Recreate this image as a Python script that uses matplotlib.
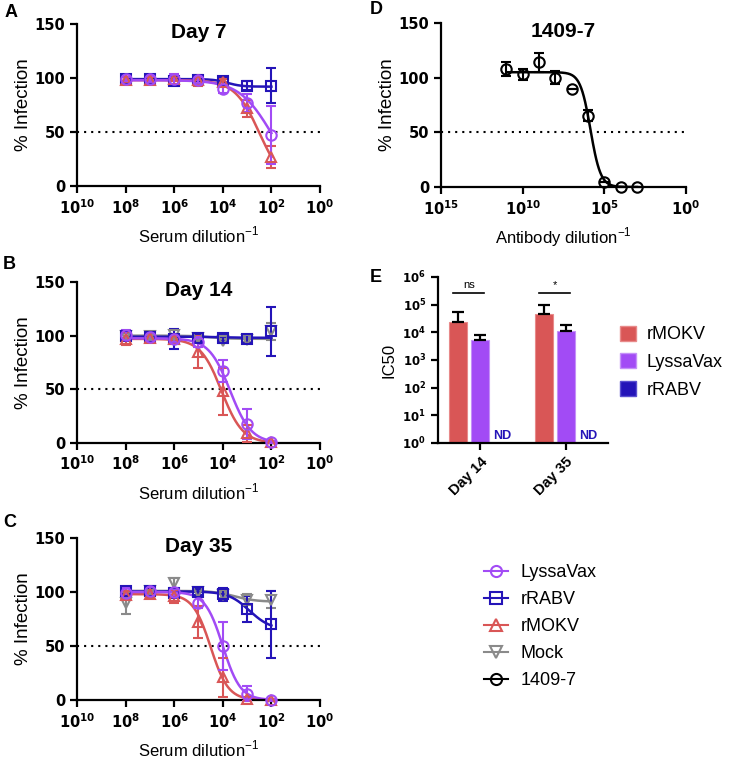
import numpy as np
import matplotlib
matplotlib.use('Agg')
import matplotlib.pyplot as plt
from matplotlib.lines import Line2D
from matplotlib.patches import Patch
from matplotlib.ticker import NullLocator

plt.rcParams['font.family'] = ['Liberation Sans', 'DejaVu Sans']
plt.rcParams['mathtext.fontset'] = 'custom'
plt.rcParams['mathtext.rm'] = 'Liberation Sans'
plt.rcParams['mathtext.bf'] = 'DejaVu Sans:bold'
plt.rcParams['axes.linewidth'] = 1.6

# colours
c_lyssa = '#A24BF5'
c_rabv = '#2414B8'
c_mokv = '#D95656'
c_mock = '#8A8A8A'
c_ab = 'black'

# serum dilutions (panels A-C)
dilutions = [1e8, 1e7, 1e6, 1e5, 1e4, 1e3, 1e2]

# Day 7
lyssa7 = [99, 99, 99, 98, 90, 77, 47]
lyssa7_err = [2, 3, 5, 3, 4, 8, 27]
rabv7 = [99, 99, 97, 98, 97, 93, 93]
rabv7_err = [2, 3, 3, 2, 3, 4, 16]
mokv7 = [98, 98, 99, 98, 96, 72, 27]
mokv7_err = [3, 3, 2, 5, 3, 8, 10]

# Day 14
lyssa14 = [101, 99, 97, 94, 67, 18, 1]
lyssa14_err = [4, 4, 3, 5, 10, 14, 1]
rabv14 = [100, 99, 97, 98, 98, 97, 104]
rabv14_err = [3, 4, 9, 3, 3, 4, 23]
mokv14 = [97, 98, 97, 85, 48, 9, 1]
mokv14_err = [6, 4, 3, 15, 22, 8, 1]
mock14 = [100, 100, 101, 98, 95, 96, 104]
mock14_err = [2, 2, 4, 2, 2, 2, 8]

# Day 35
lyssa35 = [99, 101, 100, 90, 50, 6, 0]
lyssa35_err = [5, 4, 3, 5, 22, 7, 1]
rabv35 = [101, 101, 99, 100, 98, 84, 70]
rabv35_err = [3, 3, 5, 3, 6, 12, 31]
mokv35 = [97, 98, 96, 72, 21, 1, 0]
mokv35_err = [4, 4, 6, 15, 18, 2, 1]
mock35 = [90, 101, 108, 100, 97, 93, 93]
mock35_err = [10, 4, 5, 3, 3, 5, 8]

# fitted curve parameters: top, bottom, log10 IC50, hill slope
fit_lyssa7 = (98, 0, 2.0, 0.65)
fit_rabv7 = (99, 92, 3.8, 1.5)
fit_mokv7 = (98, 0, 2.49, 0.86)
fit_lyssa14 = (97.5, 0, 3.7, 1.0)
fit_rabv14 = (99, 98, 4.0, 1.0)
fit_mokv14 = (97, 0, 4.05, 1.0)
fit_mock14 = (100, 97, 4.5, 1.0)
fit_lyssa35 = (100, 0, 4.0, 1.2)
fit_rabv35 = (100.5, 65, 2.9, 1.0)
fit_mokv35 = (98, 0, 4.5, 1.2)
fit_mock35 = (101, 91, 3.5, 1.0)

# 1409-7 antibody (panel D)
ab_dilutions = [1e11, 1e10, 1e9, 1e8, 1e7, 1e6, 1e5, 1e4, 1e3]
ab_values = [108, 103, 114, 100, 90, 65, 5, 0, 0]
ab_err = [6, 5, 9, 6, 0, 5, 0, 0, 0]
fit_ab = (105, 0, 5.85, 1.4)

# IC50 (panel E)
days = ['Day 14', 'Day 35']
ic50_mokv = [2.3e4, 4.5e4]
ic50_mokv_err = [3.1e4, 5.0e4]
ic50_lyssa = [5.4e3, 1.1e4]
ic50_lyssa_err = [2.9e3, 8.0e3]
sig_labels = ['ns', '*']


def logistic(logx, params):
    top, bottom, logic50, hill = params
    return bottom + (top - bottom) / (1 + 10 ** ((logic50 - logx) * hill))


def log_label(n):
    return r'$\mathbf{10^{%d}}$' % n


def style_axis(ax, xsize=10.5, ysize=10.5):
    ax.spines['top'].set_visible(False)
    ax.spines['right'].set_visible(False)
    ax.tick_params(width=1.6, length=5)
    ax.tick_params(axis='x', labelsize=xsize)
    ax.tick_params(axis='y', labelsize=ysize)
    for lab in ax.get_yticklabels():
        lab.set_fontweight('bold')
        lab.set_fontfamily('DejaVu Sans')


def dose_panel(ax, x, series, title, xlabel, xmax, xstep):
    for y, err, fit, color, marker in series:
        logx = np.linspace(np.log10(min(x)), np.log10(max(x)), 200)
        ax.plot(10 ** logx, logistic(logx, fit), color=color, lw=1.8, zorder=2)
        ax.errorbar(x, y, yerr=err, fmt=marker, mfc='none', mec=color, mew=1.5,
                    ms=7.5, ecolor=color, elinewidth=1.5, capsize=3.5, capthick=1.5,
                    clip_on=False, zorder=3)
    ax.set_xscale('log')
    ax.set_xlim(10 ** xmax, 1)
    ticks = list(range(xmax, -1, -xstep))
    ax.set_xticks([10.0 ** t for t in ticks])
    ax.set_xticklabels([log_label(t) for t in ticks])
    ax.xaxis.set_minor_locator(NullLocator())
    ax.set_ylim(0, 150)
    ax.set_yticks([0, 50, 100, 150])
    ax.axhline(50, color='black', lw=1.5, ls=(0, (1, 2.4)), zorder=1)
    ax.text(0.5, 0.95, title, transform=ax.transAxes, ha='center', va='center',
            fontsize=15, fontweight='bold')
    ax.set_xlabel(xlabel, fontsize=12, labelpad=6)
    ax.set_ylabel('% Infection', fontsize=13.5, labelpad=2)
    style_axis(ax)


fig = plt.figure(figsize=(7.36, 7.7), dpi=100)

axA = fig.add_axes([0.1046, 0.7584, 0.3302, 0.2104])
axB = fig.add_axes([0.1046, 0.4247, 0.3302, 0.2091])
axC = fig.add_axes([0.1046, 0.0909, 0.3302, 0.2104])
axD = fig.add_axes([0.5992, 0.7571, 0.3329, 0.2130])
axE = fig.add_axes([0.5951, 0.4247, 0.2310, 0.2156])

serum = 'Serum dilution$^{-1}$'
dose_panel(axA, dilutions, [
    (rabv7, rabv7_err, fit_rabv7, c_rabv, 's'),
    (mokv7, mokv7_err, fit_mokv7, c_mokv, '^'),
    (lyssa7, lyssa7_err, fit_lyssa7, c_lyssa, 'o'),
], 'Day 7', serum, 10, 2)

dose_panel(axB, dilutions, [
    (mock14, mock14_err, fit_mock14, c_mock, 'v'),
    (rabv14, rabv14_err, fit_rabv14, c_rabv, 's'),
    (mokv14, mokv14_err, fit_mokv14, c_mokv, '^'),
    (lyssa14, lyssa14_err, fit_lyssa14, c_lyssa, 'o'),
], 'Day 14', serum, 10, 2)

dose_panel(axC, dilutions, [
    (mock35, mock35_err, fit_mock35, c_mock, 'v'),
    (rabv35, rabv35_err, fit_rabv35, c_rabv, 's'),
    (mokv35, mokv35_err, fit_mokv35, c_mokv, '^'),
    (lyssa35, lyssa35_err, fit_lyssa35, c_lyssa, 'o'),
], 'Day 35', serum, 10, 2)

dose_panel(axD, ab_dilutions, [
    (ab_values, ab_err, fit_ab, c_ab, 'o'),
], '1409-7', 'Antibody dilution$^{-1}$', 15, 5)

# panel E: IC50 bars
xpos = np.arange(len(days))
bw = 0.21
off = 0.26
axE.bar(xpos - off, ic50_mokv, bw, bottom=1, color=c_mokv, edgecolor='#E88A8A', lw=0.8,
        yerr=[[0] * len(days), ic50_mokv_err], capsize=4,
        error_kw=dict(elinewidth=1.6, capthick=1.6, ecolor='black'))
axE.bar(xpos, ic50_lyssa, bw, bottom=1, color=c_lyssa, edgecolor='#C590F8', lw=0.8,
        yerr=[[0] * len(days), ic50_lyssa_err], capsize=4,
        error_kw=dict(elinewidth=1.6, capthick=1.6, ecolor='black'))
for i in xpos:
    axE.text(i + off, 1.12, 'ND', color=c_rabv, fontsize=9, fontweight='bold',
             ha='center', va='bottom')
    ybr = 10 ** 5.42
    axE.plot([i - off - 0.05, i + 0.05], [ybr, ybr], color='black', lw=1.2)
    axE.text(i - off / 2, ybr * 1.25, sig_labels[i], ha='center', va='bottom', fontsize=8)
axE.set_yscale('log')
axE.set_ylim(1, 1e6)
axE.set_yticks([10.0 ** k for k in range(7)])
axE.set_yticklabels([log_label(k) for k in range(7)])
axE.yaxis.set_minor_locator(NullLocator())
axE.set_xlim(-0.49, 1.49)
axE.set_xticks(xpos)
axE.set_xticklabels(days, rotation=45, ha='right', rotation_mode='anchor',
                    fontsize=11, fontweight='bold')
axE.set_ylabel('IC50', fontsize=12)
style_axis(axE, ysize=8.5)

# legends
fig.legend(handles=[Patch(facecolor=c_mokv, edgecolor='#E88A8A', label='rMOKV'),
                    Patch(facecolor=c_lyssa, edgecolor='#C590F8', label='LyssaVax'),
                    Patch(facecolor=c_rabv, edgecolor='#5A50D0', label='rRABV')],
           loc='upper left', bbox_to_anchor=(0.842, 0.577), frameon=False,
           fontsize=13, handlelength=0.9, handleheight=0.9, handletextpad=0.6,
           labelspacing=0.55, borderpad=0, borderaxespad=0)

line_handles = [
    Line2D([0], [0], color=c_lyssa, marker='o', mfc='none', ms=8, mew=1.5, lw=1.5, label='LyssaVax'),
    Line2D([0], [0], color=c_rabv, marker='s', mfc='none', ms=8, mew=1.5, lw=1.5, label='rRABV'),
    Line2D([0], [0], color=c_mokv, marker='^', mfc='none', ms=8, mew=1.5, lw=1.5, label='rMOKV'),
    Line2D([0], [0], color=c_mock, marker='v', mfc='none', ms=8, mew=1.5, lw=1.5, label='Mock'),
    Line2D([0], [0], color=c_ab, marker='o', mfc='none', ms=8, mew=1.5, lw=1.5, label='1409-7'),
]
fig.legend(handles=line_handles, loc='upper left', bbox_to_anchor=(0.658, 0.267),
           frameon=False, fontsize=13, handlelength=1.3, handletextpad=0.7,
           labelspacing=0.55, borderpad=0, borderaxespad=0)

# panel letters
for letter, x, y in [('A', 0.006, 0.995), ('B', 0.004, 0.667), ('C', 0.004, 0.333),
                     ('D', 0.503, 0.999), ('E', 0.503, 0.651)]:
    fig.text(x, y, letter, fontsize=13, fontweight='bold', va='top')

fig.savefig('out.png', dpi=100)
